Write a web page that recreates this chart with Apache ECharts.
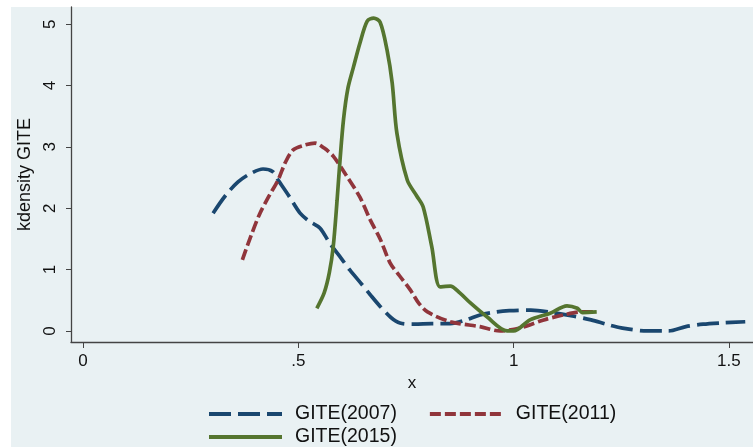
<!DOCTYPE html>
<html>
<head>
<meta charset="utf-8">
<script src="https://cdn.jsdelivr.net/npm/echarts@6/dist/echarts.min.js"></script>
<style>
html,body{margin:0;padding:0;background:#fff;}
#c{width:753px;height:447px;}
</style>
</head>
<body>
<div id="c"></div>
<script>
// Data (x, density)
var s2007 = [[0.302,1.92],[0.33,2.2],[0.36,2.43],[0.39,2.57],[0.418,2.64],[0.44,2.6],[0.453,2.46],[0.48,2.18],[0.504,1.92],[0.527,1.78],[0.55,1.68],[0.574,1.42],[0.60,1.18],[0.62,0.99],[0.645,0.78],[0.667,0.59],[0.69,0.4],[0.715,0.22],[0.736,0.13],[0.77,0.11],[0.81,0.12],[0.853,0.12],[0.89,0.18],[0.922,0.26],[0.96,0.31],[0.99,0.33],[1.04,0.34],[1.09,0.3],[1.14,0.24],[1.18,0.18],[1.22,0.1],[1.25,0.05],[1.31,0.0],[1.36,0.0],[1.40,0.07],[1.44,0.11],[1.48,0.13],[1.538,0.15]];
var s2011 = [[0.37,1.16],[0.39,1.55],[0.411,1.92],[0.432,2.2],[0.453,2.46],[0.47,2.75],[0.488,2.95],[0.51,3.02],[0.539,3.06],[0.56,2.98],[0.581,2.85],[0.61,2.55],[0.643,2.18],[0.667,1.81],[0.69,1.5],[0.713,1.11],[0.735,0.9],[0.76,0.67],[0.78,0.45],[0.80,0.31],[0.853,0.15],[0.922,0.07],[0.969,0.0],[1.015,0.05],[1.07,0.18],[1.115,0.26],[1.155,0.31],[1.193,0.31]];
var s2015 = [[0.543,0.37],[0.56,0.62],[0.572,0.95],[0.581,1.37],[0.59,2.13],[0.597,2.8],[0.605,3.45],[0.615,3.95],[0.628,4.3],[0.643,4.69],[0.66,5.05],[0.675,5.1],[0.69,5.03],[0.706,4.58],[0.718,4.04],[0.729,3.22],[0.753,2.46],[0.775,2.2],[0.79,2.02],[0.81,1.37],[0.829,0.72],[0.853,0.73],[0.875,0.62],[0.899,0.46],[0.938,0.23],[0.985,0.0],[1.0,0.0],[1.038,0.18],[1.085,0.29],[1.124,0.41],[1.148,0.37],[1.16,0.3],[1.193,0.31]];
var xTicks = [0, 0.5, 1, 1.5];
var xTickLabels = ['0', '.5', '1', '1.5'];
var yTicks = [0, 1, 2, 3, 4, 5];
var seriesNames = ['GITE(2007)', 'GITE(2011)', 'GITE(2015)'];

var chart = echarts.init(document.getElementById('c'));
var FONT = 'Liberation Sans, Arial, sans-serif';
var axisCol = '#444';
var legendText = {fontFamily:FONT, fontSize:19.5, color:'#111', padding:[0,0,0,8]};
chart.setOption({
  backgroundColor: '#ffffff',
  animation: false,
  graphic: [{type:'rect', z:-10, silent:true, shape:{x:11,y:7,width:742,height:440}, style:{fill:'#e9f1f3'}}],
  grid: {left:71, right:0, top:7, bottom:105, containLabel:false},
  xAxis: {
    type:'value', min:-0.028, max:1.556,
    name:'x', nameLocation:'middle', nameGap:28,
    nameTextStyle:{fontFamily:FONT, fontSize:17, color:'#111'},
    axisLine:{show:true, onZero:false, lineStyle:{color:axisCol, width:1.3}},
    axisTick:{show:true, length:6, customValues:xTicks, lineStyle:{color:axisCol}},
    axisLabel:{customValues:xTicks, margin:11, fontFamily:FONT, fontSize:17, color:'#111',
      formatter:function(v){var i=xTicks.indexOf(v);return i>=0?xTickLabels[i]:'';}},
    splitLine:{show:false}
  },
  yAxis: {
    type:'value', min:-0.18, max:5.28,
    name:'kdensity GITE', nameLocation:'middle', nameGap:34,
    nameTextStyle:{fontFamily:FONT, fontSize:18, color:'#111'},
    axisLine:{show:true, onZero:false, lineStyle:{color:axisCol, width:1.3}},
    axisTick:{show:true, length:5, customValues:yTicks, lineStyle:{color:axisCol}},
    axisLabel:{customValues:yTicks, rotate:90, margin:12, fontFamily:FONT, fontSize:17, color:'#111'},
    splitLine:{show:false}
  },
  legend: [
    {id:'lg1', data:[seriesNames[0], seriesNames[1]], left:207, top:404, itemWidth:73, itemHeight:14, itemGap:31, padding:0,
     itemStyle:{opacity:0}, lineStyle:{width:4}, textStyle:legendText},
    {id:'lg2', data:[seriesNames[2]], left:207, top:427, itemWidth:73, itemHeight:14, padding:0,
     itemStyle:{opacity:0}, lineStyle:{width:4}, textStyle:legendText}
  ],
  series: [
    {name:seriesNames[0], type:'line', data:s2007, symbol:'none', smooth:0.3,
     itemStyle:{color:'#1a476f'}, lineStyle:{color:'#1a476f', width:3.7, type:[22,7]}},
    {name:seriesNames[1], type:'line', data:s2011, symbol:'none', smooth:0.3,
     itemStyle:{color:'#90353b'}, lineStyle:{color:'#90353b', width:3.7, type:[11,4]}},
    {name:seriesNames[2], type:'line', data:s2015, symbol:'none', smooth:0.3,
     itemStyle:{color:'#55752f'}, lineStyle:{color:'#55752f', width:3.7}}
  ]
});
</script>
</body>
</html>
